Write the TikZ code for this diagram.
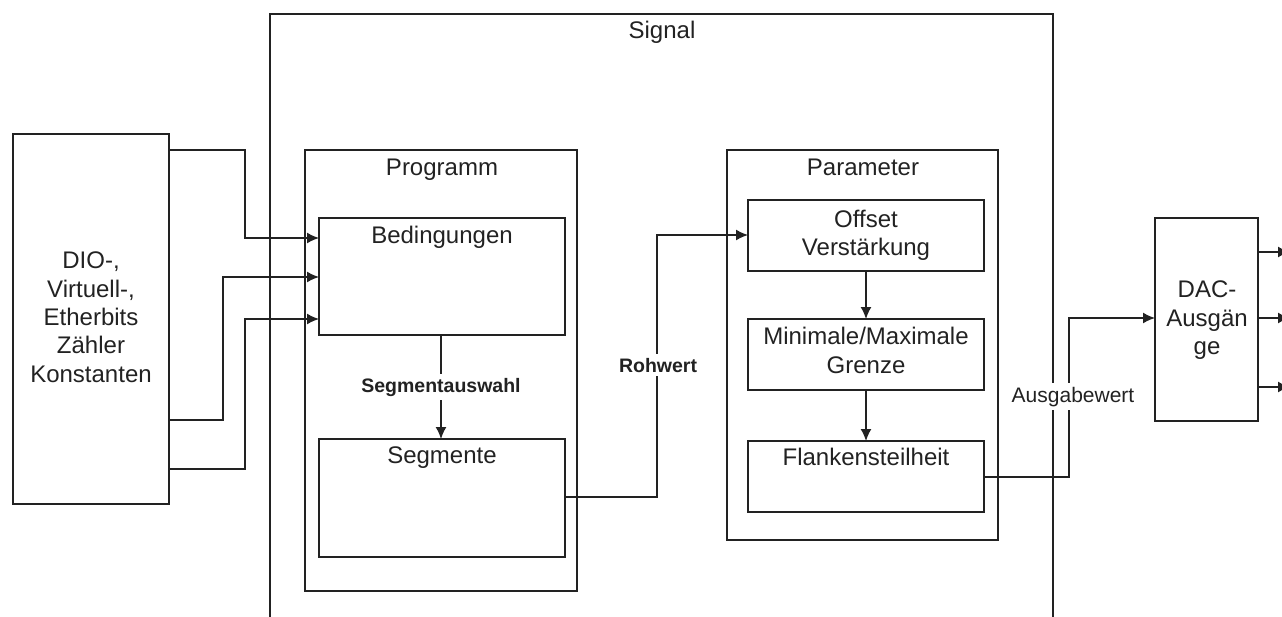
\documentclass[tikz,border=0pt]{standalone}
\usepackage{fontspec}
\setmainfont{Liberation Sans}
\usetikzlibrary{arrows.meta}
\definecolor{ink}{HTML}{222222}
\tikzset{
  box/.style={draw=ink, line width=1.5pt, inner sep=0pt, outer sep=0pt},
  txt/.style={font=\fontsize{24}{28}\selectfont, text=ink, anchor=base, inner sep=0pt},
  lab/.style={font=\bfseries\fontsize{19.5}{22}\selectfont, text=ink, fill=white, inner sep=4pt, anchor=base},
  labr/.style={font=\fontsize{21}{22}\selectfont, text=ink, fill=white, inner sep=4pt, anchor=base},
  ln/.style={draw=ink, line width=1.5pt},
  arr/.style={ln, -{Latex[length=12pt,width=11pt]}}
}
\begin{document}
\begin{tikzpicture}[x=1pt, y=-1pt]
\useasboundingbox (0,0) rectangle (1282,616);
\clip (0,0) rectangle (1282,616);
% containers
\node[box, minimum width=783pt, minimum height=666pt] (sig) at (661.5,347) {};
\node[box, minimum width=156pt, minimum height=370pt] (L) at (91,319) {};
\node[box, minimum width=272pt, minimum height=441pt] (prog) at (441,370.5) {};
\node[box, minimum width=246pt, minimum height=117pt] (bed) at (442,276.5) {};
\node[box, minimum width=246pt, minimum height=118pt] (seg) at (442,498) {};
\node[box, minimum width=271pt, minimum height=390pt] (par) at (862.5,345) {};
\node[box, minimum width=236pt, minimum height=71pt] (off) at (866,235.5) {};
\node[box, minimum width=236pt, minimum height=71pt] (mm) at (866,354.5) {};
\node[box, minimum width=236pt, minimum height=71pt] (fl) at (866,476.5) {};
\node[box, minimum width=103pt, minimum height=203pt] (dac) at (1206.5,319.5) {};
% texts
\node[txt] (tSig) at (662,38) {Signal};
\node[txt] (tProg) at (442,175) {Programm};
\node[txt] (tBed) at (442,243) {Bedingungen};
\node[txt] (tSeg) at (442,463) {Segmente};
\node[txt] (tPar) at (863,175) {Parameter};
\node[txt] (tOff1) at (866,227) {Offset};
\node[txt] (tOff2) at (866,255) {Verstärkung};
\node[txt] (tMm1) at (866,344) {Minimale/Maximale};
\node[txt] (tMm2) at (866,373) {Grenze};
\node[txt] (tFl) at (866,465) {Flankensteilheit};
\node[txt] (tL1) at (91,268) {DIO-,};
\node[txt] (tL2) at (91,297) {Virtuell-,};
\node[txt] (tL3) at (91,325) {Etherbits};
\node[txt] (tL4) at (91,353) {Zähler};
\node[txt] (tL5) at (91,382) {Konstanten};
\node[txt] (tD1) at (1207,297) {DAC-};
\node[txt] (tD2) at (1207,326) {Ausgän};
\node[txt] (tD3) at (1207,354) {ge};
% connectors
\draw[arr] (L.east |- 0,150) -| (245,238) -- (bed.west |- 0,238);
\draw[arr] (L.east |- 0,420) -| (223,277) -- (bed.west |- 0,277);
\draw[arr] (L.east |- 0,469) -| (245,319) -- (bed.west |- 0,319);
\draw[arr] (bed.south -| 441,0) -- (seg.north -| 441,0);
\draw[arr] (seg.east |- 0,497) -| (657,235) -- (off.west |- 0,235);
\draw[arr] (off.south) -- (mm.north);
\draw[arr] (mm.south) -- (fl.north);
\draw[arr] (fl.east |- 0,477) -| (1069,318) -- (dac.west |- 0,318);
\coordinate (o1) at (1290,252);
\coordinate (o2) at (1290,318);
\coordinate (o3) at (1290,387);
\draw[arr] (dac.east |- o1) -- (o1);
\draw[arr] (dac.east |- o2) -- (o2);
\draw[arr] (dac.east |- o3) -- (o3);
% connector labels
\node[lab] (lSeg) at (441,392) {Segmentauswahl};
\node[lab] (lRoh) at (658,372) {Rohwert};
\node[labr] (lAus) at (1073,402) {Ausgabewert};
\end{tikzpicture}
\end{document}
